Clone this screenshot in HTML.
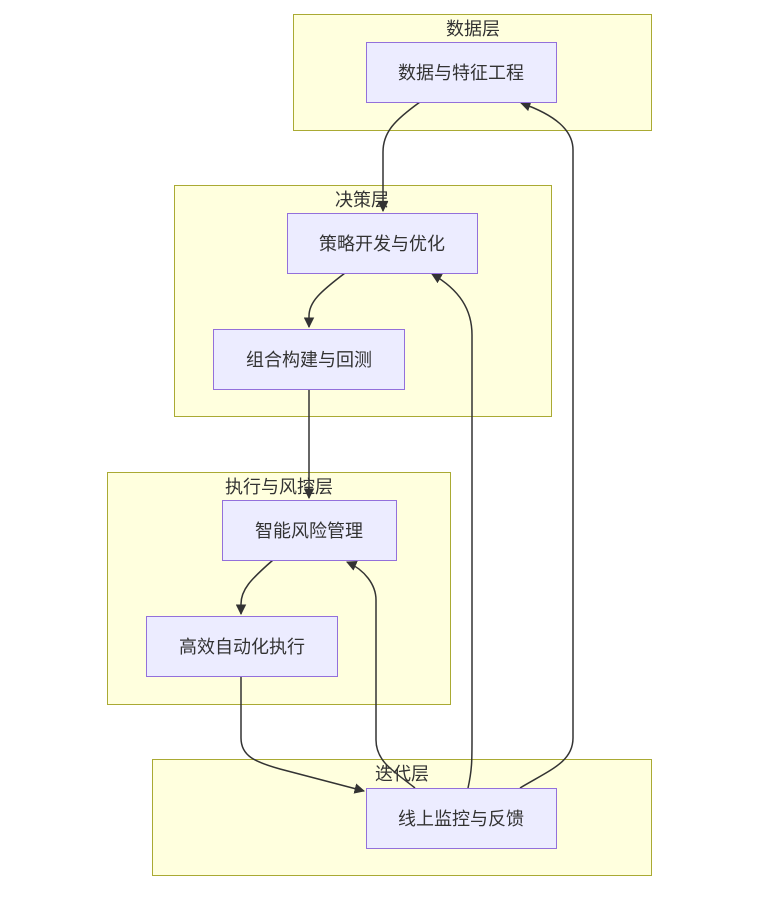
<!DOCTYPE html>
<html><head><meta charset="utf-8"><style>
html,body{margin:0;padding:0;background:#fff;}
text{font-family:"Liberation Sans","Noto Sans CJK SC",sans-serif;font-size:18px;fill:#333;}
.c{fill:#ffffde;stroke:#aaaa33;stroke-width:1;}
.n{fill:#ECECFF;stroke:#9370DB;stroke-width:1;}
.e{fill:none;stroke:#333;stroke-width:1.5;}
</style></head><body>
<svg width="760" height="894" viewBox="0 0 760 894" xmlns="http://www.w3.org/2000/svg">
<defs><marker id="a" viewBox="0 0 10 10" refX="9" refY="5" markerWidth="7" markerHeight="7" orient="auto"><path d="M0,0 L10,5 L0,10 z" fill="#333"/></marker></defs>
<rect class="c" x="293.5" y="14.5" width="358" height="116"/>
<rect class="c" x="174.5" y="185.5" width="377" height="231"/>
<rect class="c" x="107.5" y="472.5" width="343" height="232"/>
<rect class="c" x="152.5" y="759.5" width="499" height="116"/>
<text x="473" y="35" text-anchor="middle">数据层</text>
<text x="362" y="206" text-anchor="middle">决策层</text>
<text x="279" y="493" text-anchor="middle">执行与风控层</text>
<text x="402" y="780" text-anchor="middle">迭代层</text>
<path class="e" d="M420,102 C395,120 383,132 383,152 L383,211" marker-end="url(#a)"/>
<path class="e" d="M345,273 C320,292 309,302 309,316 L309,327" marker-end="url(#a)"/>
<path class="e" d="M309,389 L309,498" marker-end="url(#a)"/>
<path class="e" d="M273,560 C250,580 241,590 241,604 L241,614" marker-end="url(#a)"/>
<path class="e" d="M241,676 L241,738 C241,756 255,762 280,769 L364,791" marker-end="url(#a)"/>
<path class="e" d="M415,788 C395,772 376,762 376,740 L376,600 C376,585 365,570 347,562" marker-end="url(#a)"/>
<path class="e" d="M468,788 C472,770 472,760 472,740 L472,335 C472,310 460,290 432,274" marker-end="url(#a)"/>
<path class="e" d="M520,788 C550,770 573,762 573,738 L573,150 C573,130 555,115 521,103" marker-end="url(#a)"/>
<rect class="n" x="366.5" y="42.5" width="190" height="60"/>
<text x="461" y="79" text-anchor="middle">数据与特征工程</text>
<rect class="n" x="287.5" y="213.5" width="190" height="60"/>
<text x="382" y="250" text-anchor="middle">策略开发与优化</text>
<rect class="n" x="213.5" y="329.5" width="191" height="60"/>
<text x="309" y="366" text-anchor="middle">组合构建与回测</text>
<rect class="n" x="222.5" y="500.5" width="174" height="60"/>
<text x="309" y="537" text-anchor="middle">智能风险管理</text>
<rect class="n" x="146.5" y="616.5" width="191" height="60"/>
<text x="242" y="653" text-anchor="middle">高效自动化执行</text>
<rect class="n" x="366.5" y="788.5" width="190" height="60"/>
<text x="461" y="825" text-anchor="middle">线上监控与反馈</text>
</svg>
</body></html>
